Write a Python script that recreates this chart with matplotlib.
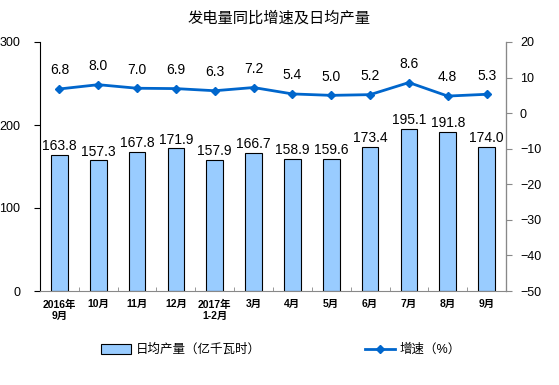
import matplotlib.pyplot as plt
import numpy as np

plt.rcParams['font.family'] = ['Liberation Sans', 'Noto Sans CJK SC', 'DejaVu Sans']

months = ['2016年\n9月', '10月', '11月', '12月', '2017年\n1-2月', '3月',
          '4月', '5月', '6月', '7月', '8月', '9月']
daily_output = [163.8, 157.3, 167.8, 171.9, 157.9, 166.7,
                158.9, 159.6, 173.4, 195.1, 191.8, 174.0]
growth = [6.8, 8.0, 7.0, 6.9, 6.3, 7.2, 5.4, 5.0, 5.2, 8.6, 4.8, 5.3]

fig = plt.figure(figsize=(5.59, 3.85), dpi=100)
ax = fig.add_axes([40 / 559, 1 - 291 / 385, 466 / 559, 249 / 385])
ax2 = ax.twinx()

x = np.arange(len(months))
bars = ax.bar(x, daily_output, width=0.43, color='#99ccff',
              edgecolor='black', linewidth=0.8, label='日均产量（亿千瓦时）')
for xi, v in zip(x, daily_output):
    ax.text(xi, v + 2, '%.1f' % v, ha='center', va='bottom', fontsize=10)

line, = ax2.plot(x, growth, color='#0066cc', linewidth=2, marker='D',
                 markersize=4.5, label='增速（%）')
for xi, v in zip(x, growth):
    ax2.text(xi, v + 3.3, '%.1f' % v, ha='center', va='bottom', fontsize=10)

ax.set_xlim(-0.5, len(months) - 0.5)
ax.set_ylim(0, 300)
ax.set_yticks([0, 100, 200, 300])
ax2.set_ylim(-50, 20)
ax2.set_yticks(range(-50, 21, 10))

ax.set_xticks(x)
ax.set_xticklabels(months, fontsize=7.5, fontweight='bold')
ax.set_xticks(np.arange(-0.5, len(months), 1), minor=True)
ax.tick_params(axis='x', which='major', length=0, pad=6)
ax.tick_params(axis='x', which='minor', length=3, direction='in', color='#888888')
ax.tick_params(axis='y', labelsize=9, length=4, pad=10)
ax2.tick_params(axis='y', labelsize=9, length=4, pad=6, color='#888888')

for a in (ax, ax2):
    a.spines['top'].set_visible(False)
ax.spines['bottom'].set_color('#888888')
ax2.spines['bottom'].set_visible(False)
ax.spines['left'].set_color('black')
ax2.spines['right'].set_color('#888888')
ax2.spines['left'].set_visible(False)

fig.text(0.5, 1 - 18 / 385, '发电量同比增速及日均产量', ha='center', va='center',
         fontsize=11, family='Noto Sans CJK SC')

fig.legend(handles=[bars, line], loc='center', bbox_to_anchor=(0.503, 1 - 350 / 385),
           ncol=2, frameon=False, fontsize=9, columnspacing=8.3,
           handlelength=2.4, handleheight=0.9, handletextpad=0.4)

fig.savefig('out.png', dpi=100)
